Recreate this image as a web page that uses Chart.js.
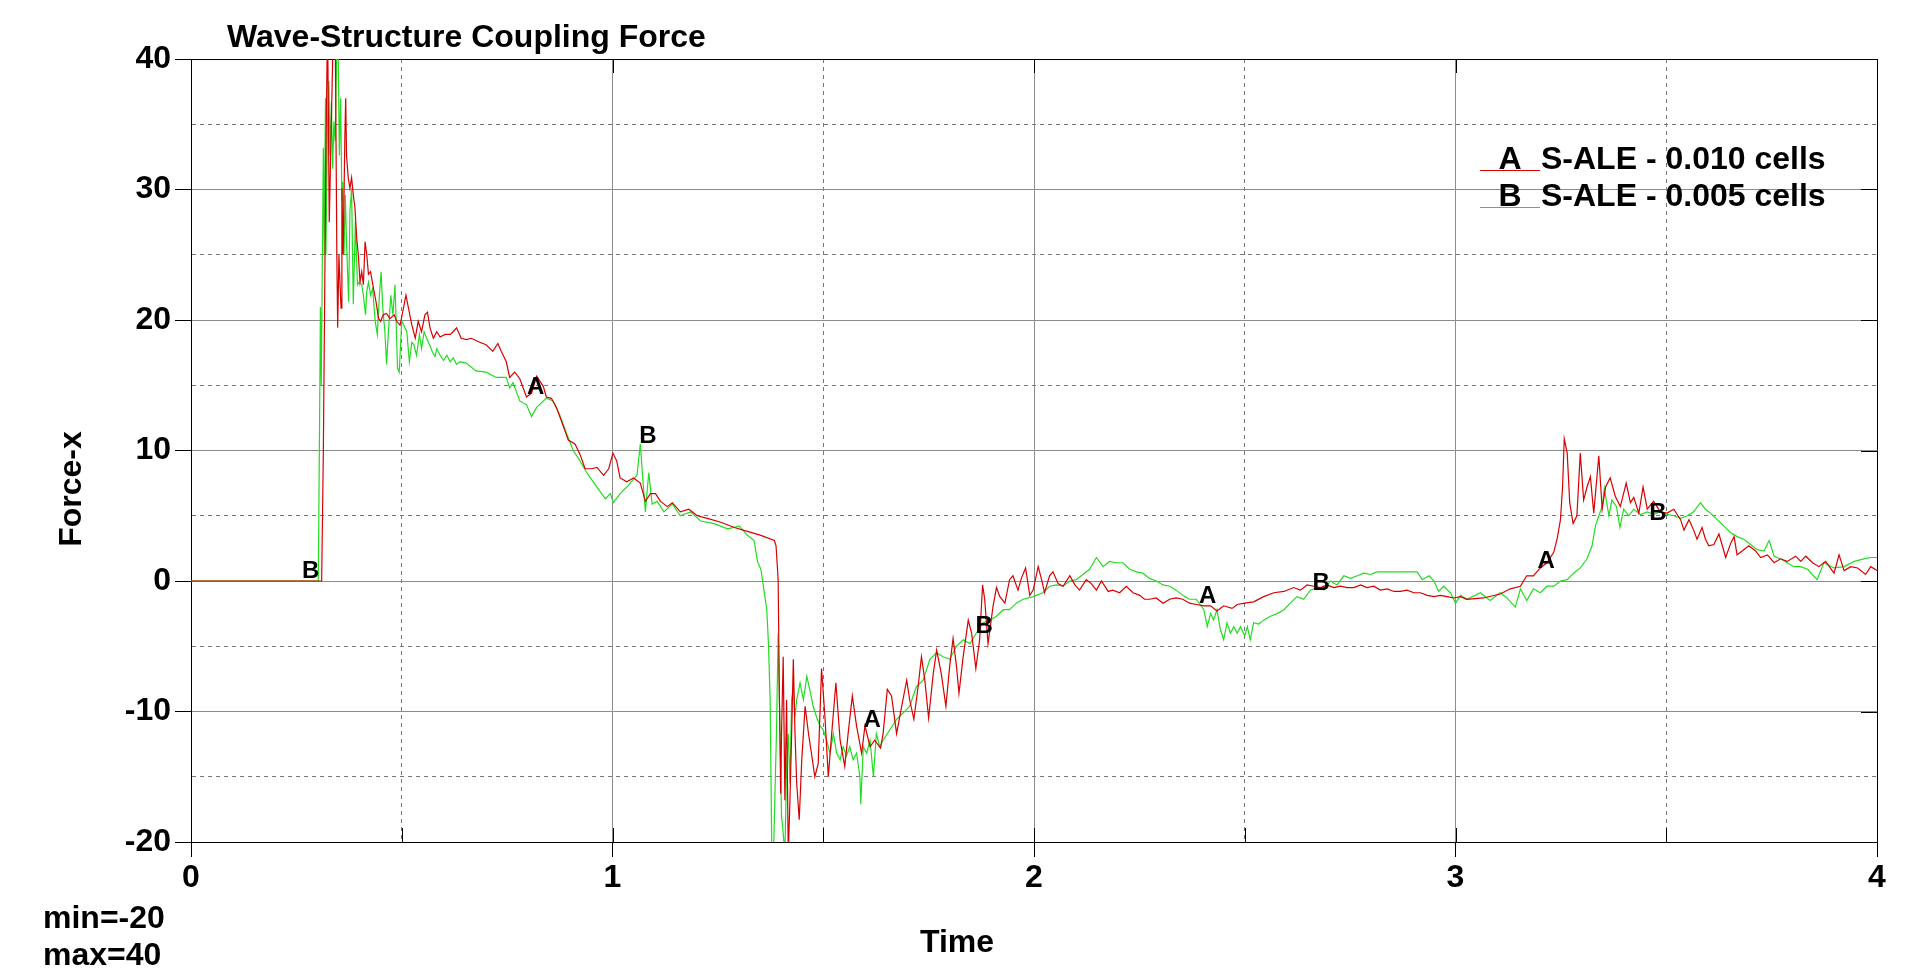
<!DOCTYPE html>
<html>
<head>
<meta charset="utf-8">
<title>Wave-Structure Coupling Force</title>
<script src="https://cdn.jsdelivr.net/npm/chart.js@4.4.1/dist/chart.umd.min.js"></script>
<style>
  html, body { margin: 0; padding: 0; background: #fff; }
  canvas { display: block; }
</style>
</head>
<body>
<canvas id="forceChart" width="1914" height="979"></canvas>
<script>
// curve A: S-ALE 0.010 cells, [time, force-x]
const curveA = [
  [0,0],[0.31,0],[0.314,10],[0.320,32.6],[0.324,43],[0.328,27.5],[0.333,35.2],[0.338,43],[0.342,43],[0.346,25.0],
  [0.348,19.4],[0.351,25.0],[0.354,22.4],[0.356,20.9],[0.358,30.1],[0.361,25.0],[0.365,33.9],[0.367,37.0],[0.369,32.6],[0.373,30.9],
  [0.377,30.1],[0.381,30.9],[0.385,29.6],[0.389,28.6],[0.393,26.3],[0.397,25.0],[0.401,22.9],[0.405,23.7],[0.409,22.7],[0.413,26.0],
  [0.417,25.0],[0.421,23.5],[0.426,23.7],[0.433,22.4],[0.439,21.4],[0.445,20.1],[0.450,19.9],[0.456,20.4],[0.464,20.5],[0.472,20.1],
  [0.482,20.4],[0.488,19.9],[0.496,19.6],[0.504,20.9],[0.510,21.9],[0.516,20.9],[0.524,19.6],[0.532,18.6],[0.539,19.9],[0.547,19.1],
  [0.555,20.4],[0.561,20.6],[0.567,19.4],[0.575,18.6],[0.583,19.1],[0.591,18.7],[0.603,18.9],[0.615,18.9],[0.622,19.1],[0.630,19.4],
  [0.641,18.6],[0.653,18.5],[0.665,18.6],[0.685,18.3],[0.700,18.1],[0.716,17.6],[0.728,18.2],[0.736,17.6],[0.748,16.8],[0.756,15.6],
  [0.768,16.0],[0.780,15.5],[0.796,14.1],[0.808,14.4],[0.820,15.7],[0.836,14.9],[0.843,14.1],[0.855,14.0],[0.867,13.3],[0.883,11.9],
  [0.895,10.8],[0.911,10.5],[0.923,9.7],[0.935,8.6],[0.951,8.6],[0.963,8.7],[0.979,8.1],[0.991,8.6],[1.001,9.8],[1.010,9.2],
  [1.018,7.9],[1.034,7.6],[1.050,7.9],[1.066,7.5],[1.078,6.1],[1.090,6.7],[1.102,6.7],[1.114,6.1],[1.130,5.7],[1.142,6.0],
  [1.161,5.3],[1.181,5.5],[1.201,5.0],[1.225,4.8],[1.257,4.5],[1.289,4.1],[1.320,3.8],[1.352,3.5],[1.384,3.1],[1.388,2.7],
  [1.393,0.1],[1.396,-9.1],[1.399,-16.3],[1.401,-11.7],[1.405,-5.8],[1.409,-16.8],[1.413,-9.1],[1.417,-21],[1.421,-16.8],[1.425,-11.7],
  [1.429,-6.0],[1.433,-11.7],[1.437,-15.5],[1.443,-18.3],[1.449,-13.7],[1.457,-9.6],[1.465,-11.7],[1.472,-13.2],[1.480,-15.0],[1.488,-14.0],
  [1.496,-6.7],[1.504,-10.4],[1.512,-15.0],[1.520,-11.7],[1.530,-7.8],[1.540,-12.2],[1.551,-14.2],[1.559,-11.7],[1.569,-8.8],[1.579,-11.1],
  [1.591,-13.2],[1.599,-11.1],[1.611,-12.7],[1.622,-12.2],[1.636,-12.8],[1.642,-11.7],[1.652,-8.3],[1.662,-8.8],[1.674,-11.7],[1.686,-9.6],
  [1.698,-7.6],[1.705,-9.1],[1.715,-10.6],[1.725,-8.1],[1.733,-5.8],[1.741,-7.6],[1.750,-10.5],[1.761,-7.1],[1.769,-5.3],[1.780,-7.1],
  [1.791,-9.6],[1.800,-6.5],[1.808,-4.4],[1.816,-6.5],[1.822,-8.6],[1.832,-5.8],[1.844,-3.0],[1.852,-4.0],[1.862,-6.7],[1.871,-4.5],
  [1.878,-0.3],[1.883,-1.4],[1.891,-4.8],[1.903,-1.9],[1.911,-0.5],[1.919,-1.2],[1.931,-1.7],[1.942,0.1],[1.950,0.4],[1.962,-0.7],
  [1.970,0.2],[1.980,1.0],[1.990,-1.1],[1.998,-0.7],[2.010,1.1],[2.018,0.1],[2.025,-0.9],[2.037,0.4],[2.045,0.7],[2.057,-0.2],
  [2.069,-0.4],[2.085,0.4],[2.097,-0.3],[2.108,-0.7],[2.124,0.1],[2.136,-0.2],[2.148,-0.7],[2.160,0.0],[2.176,-0.8],[2.187,-0.7],
  [2.203,-0.9],[2.219,-0.4],[2.235,-0.9],[2.251,-1.1],[2.262,-1.4],[2.274,-1.4],[2.290,-1.3],[2.306,-1.7],[2.322,-1.4],[2.337,-1.3],
  [2.353,-1.4],[2.369,-1.7],[2.385,-1.8],[2.403,-1.9],[2.419,-1.9],[2.434,-2.3],[2.450,-1.9],[2.470,-2.1],[2.482,-1.8],[2.500,-1.7],
  [2.521,-1.6],[2.545,-1.2],[2.569,-0.9],[2.593,-0.8],[2.616,-0.5],[2.632,-0.7],[2.648,-0.3],[2.664,-0.4],[2.680,-0.5],[2.695,-0.3],
  [2.711,-0.5],[2.727,-0.4],[2.743,-0.5],[2.759,-0.5],[2.775,-0.3],[2.790,-0.5],[2.806,-0.4],[2.822,-0.7],[2.838,-0.6],[2.854,-0.8],
  [2.869,-0.8],[2.885,-0.7],[2.901,-0.9],[2.917,-0.9],[2.933,-1.1],[2.949,-1.2],[2.964,-1.1],[2.980,-1.2],[2.996,-1.3],[3.012,-1.2],
  [3.027,-1.4],[3.066,-1.3],[3.106,-1.0],[3.130,-0.6],[3.154,-0.4],[3.169,0.4],[3.185,0.4],[3.201,1.0],[3.217,1.4],[3.233,2.2],
  [3.241,3.2],[3.249,4.7],[3.254,7.2],[3.258,10.9],[3.265,9.8],[3.271,6.0],[3.279,4.4],[3.288,5.0],[3.296,9.8],[3.304,6.2],
  [3.312,7.2],[3.320,8.0],[3.328,5.2],[3.340,9.6],[3.348,5.5],[3.356,7.2],[3.367,7.9],[3.379,6.5],[3.391,5.7],[3.405,7.5],
  [3.415,6.0],[3.423,6.4],[3.435,5.2],[3.445,7.2],[3.455,5.5],[3.470,6.1],[3.486,5.3],[3.502,5.2],[3.518,5.5],[3.534,4.7],
  [3.542,3.9],[3.554,4.7],[3.565,3.9],[3.573,3.2],[3.585,4.1],[3.593,3.2],[3.601,2.7],[3.613,2.8],[3.625,3.6],[3.633,2.7],
  [3.641,1.8],[3.653,2.9],[3.661,3.4],[3.668,2.0],[3.680,2.3],[3.696,2.7],[3.712,2.3],[3.724,1.8],[3.740,2.0],[3.756,1.4],
  [3.771,1.7],[3.787,1.5],[3.807,1.9],[3.819,1.5],[3.831,1.9],[3.847,1.4],[3.862,1.1],[3.878,1.5],[3.898,0.6],[3.910,2.0],
  [3.922,0.8],[3.938,1.1],[3.954,1.0],[3.973,0.5],[3.985,1.1],[4.0,0.8]
];

// curve B: S-ALE 0.005 cells, [time, force-x]
const curveB = [
  [0,0],[0.302,0],[0.305,12],[0.307,21],[0.309,15],[0.314,33.2],[0.316,25.0],[0.319,37.0],[0.320,25.0],[0.324,35.2],
  [0.327,38.3],[0.330,32.6],[0.333,36.7],[0.336,31.6],[0.339,35.2],[0.342,33.7],[0.346,41],[0.349,41],[0.352,32.6],[0.355,37.0],
  [0.358,29.1],[0.360,30.6],[0.363,25.0],[0.366,29.6],[0.369,26.0],[0.374,21.4],[0.377,28.3],[0.381,30.1],[0.385,21.2],[0.390,27.5],
  [0.395,22.7],[0.399,22.9],[0.405,22.7],[0.409,21.9],[0.414,20.4],[0.417,22.2],[0.421,22.9],[0.426,21.9],[0.431,22.4],[0.437,19.9],
  [0.442,18.9],[0.447,21.9],[0.451,23.7],[0.455,20.9],[0.460,19.1],[0.464,16.6],[0.468,18.9],[0.474,21.9],[0.479,20.4],[0.484,22.7],
  [0.490,16.3],[0.494,16.0],[0.500,19.9],[0.505,19.6],[0.512,19.1],[0.518,16.8],[0.524,18.3],[0.529,18.1],[0.535,17.3],[0.542,18.9],
  [0.547,17.8],[0.553,19.1],[0.559,18.6],[0.566,18.1],[0.572,17.6],[0.579,17.2],[0.583,17.8],[0.591,17.3],[0.599,16.9],[0.607,17.3],
  [0.615,16.8],[0.622,17.1],[0.630,16.6],[0.638,16.8],[0.653,16.7],[0.676,16.1],[0.700,16.0],[0.724,15.6],[0.748,15.6],[0.756,14.8],
  [0.764,15.2],[0.780,13.8],[0.796,13.5],[0.808,12.6],[0.820,13.3],[0.843,14.0],[0.859,13.8],[0.875,12.7],[0.891,11.3],[0.907,10.0],
  [0.923,9.2],[0.939,8.3],[0.963,7.2],[0.983,6.3],[0.995,6.7],[1.002,6.0],[1.018,6.7],[1.034,7.2],[1.050,7.8],[1.058,8.1],
  [1.066,10.5],[1.072,7.8],[1.078,5.3],[1.086,8.3],[1.094,5.9],[1.106,6.1],[1.122,5.3],[1.142,5.9],[1.161,5.0],[1.185,5.3],
  [1.209,4.6],[1.241,4.4],[1.273,4.0],[1.301,4.2],[1.320,3.5],[1.336,3.1],[1.344,1.5],[1.352,0.9],[1.358,-0.4],[1.366,-2.2],
  [1.370,-4.8],[1.374,-9.1],[1.378,-21],[1.382,-21],[1.386,-15.5],[1.389,-11.7],[1.393,-4.0],[1.396,-9.1],[1.399,-14.2],[1.401,-18.0],
  [1.405,-19.3],[1.409,-21],[1.413,-14.2],[1.417,-11.7],[1.421,-15.5],[1.425,-9.1],[1.429,-8.1],[1.433,-10.4],[1.437,-9.1],[1.445,-7.8],
  [1.453,-9.1],[1.461,-7.3],[1.468,-8.3],[1.476,-9.6],[1.484,-10.4],[1.492,-11.1],[1.500,-11.4],[1.508,-12.2],[1.516,-13.2],[1.524,-11.7],
  [1.532,-13.2],[1.540,-13.7],[1.547,-12.7],[1.555,-13.4],[1.563,-12.7],[1.571,-13.7],[1.579,-13.2],[1.587,-15.0],[1.589,-17.1],[1.595,-12.7],
  [1.603,-13.2],[1.611,-12.2],[1.619,-15.0],[1.626,-11.7],[1.634,-12.7],[1.642,-12.2],[1.658,-11.4],[1.674,-10.6],[1.690,-10.1],[1.705,-9.6],
  [1.721,-8.1],[1.737,-7.6],[1.753,-6.0],[1.769,-5.5],[1.784,-5.8],[1.800,-6.0],[1.816,-5.0],[1.832,-4.5],[1.848,-4.8],[1.863,-4.0],
  [1.879,-3.2],[1.895,-3.0],[1.911,-2.7],[1.927,-2.2],[1.942,-2.2],[1.958,-1.7],[1.974,-1.4],[1.998,-1.2],[2.021,-0.9],[2.037,-0.4],
  [2.053,-0.3],[2.069,-0.4],[2.085,0.0],[2.100,0.1],[2.116,0.5],[2.132,0.9],[2.148,1.8],[2.164,1.1],[2.179,1.5],[2.195,1.4],
  [2.211,1.4],[2.227,0.9],[2.243,0.7],[2.258,0.6],[2.274,0.2],[2.290,0.0],[2.306,-0.3],[2.322,-0.4],[2.337,-0.7],[2.353,-1.1],
  [2.369,-1.4],[2.385,-1.4],[2.403,-2.2],[2.411,-3.5],[2.419,-2.5],[2.426,-3.0],[2.434,-2.2],[2.442,-3.7],[2.450,-4.5],[2.458,-3.2],
  [2.466,-4.0],[2.474,-3.5],[2.482,-4.0],[2.490,-3.5],[2.500,-4.2],[2.506,-3.5],[2.513,-4.5],[2.521,-3.2],[2.533,-3.3],[2.545,-3.0],
  [2.561,-2.7],[2.577,-2.5],[2.593,-2.2],[2.608,-1.7],[2.624,-1.2],[2.640,-1.4],[2.656,-0.7],[2.672,-0.5],[2.688,-0.7],[2.703,0.0],
  [2.719,-0.3],[2.735,0.4],[2.751,0.2],[2.767,0.4],[2.782,0.6],[2.798,0.5],[2.814,0.7],[2.838,0.7],[2.862,0.7],[2.885,0.7],
  [2.909,0.7],[2.921,0.1],[2.937,0.4],[2.949,0.0],[2.960,-0.8],[2.972,-0.4],[2.988,-0.9],[3.000,-1.7],[3.012,-1.1],[3.027,-1.4],
  [3.059,-0.9],[3.082,-1.5],[3.106,-0.9],[3.122,-1.3],[3.142,-2.0],[3.154,-0.6],[3.169,-1.5],[3.185,-0.6],[3.201,-0.9],[3.217,-0.4],
  [3.233,-0.4],[3.249,0.0],[3.265,0.1],[3.280,0.6],[3.296,1.0],[3.312,1.7],[3.324,2.7],[3.332,4.2],[3.340,5.0],[3.348,5.7],
  [3.353,7.1],[3.364,5.0],[3.371,6.2],[3.382,5.7],[3.390,4.1],[3.399,5.5],[3.411,5.0],[3.423,5.5],[3.439,5.1],[3.455,5.3],
  [3.470,5.1],[3.486,5.3],[3.502,5.1],[3.518,5.0],[3.534,4.8],[3.550,5.0],[3.565,5.3],[3.581,6.0],[3.593,5.5],[3.605,5.2],
  [3.621,4.7],[3.637,4.2],[3.653,3.7],[3.668,3.4],[3.684,3.2],[3.700,2.8],[3.716,2.4],[3.732,2.3],[3.744,3.1],[3.756,1.9],
  [3.771,1.7],[3.787,1.4],[3.803,1.1],[3.819,1.1],[3.835,0.9],[3.858,0.1],[3.874,1.4],[3.898,1.0],[3.922,1.1],[3.946,1.5],
  [3.969,1.7],[3.985,1.8],[4.0,1.8]
];

// letter tags written along the curves
const tagText  = ['B', 'A', 'B', 'A', 'B', 'A', 'B', 'A', 'B'];
const tagTime  = [0.284, 0.818, 1.084, 1.616, 1.882, 2.412, 2.681, 3.215, 3.480];
const tagForce = [0.7, 14.8, 11.1, -10.7, -3.5, -1.2, -0.2, 1.5, 5.2];

const seriesNames = ['S-ALE - 0.010 cells', 'S-ALE - 0.005 cells'];
const seriesTags = ['A', 'B'];
const seriesColors = ['#d80000', '#22dc22'];

const FONT = '"Liberation Sans", Arial, sans-serif';
const isMajorX = v => Math.abs(v - Math.round(v)) < 1e-6;
const isMajorY = v => Math.abs(v % 10) < 1e-6;

// title, legend, min/max note, curve tags, inner tick marks
const decorPlugin = {
  id: 'decor',
  afterDraw(chart) {
    const { ctx, chartArea: a, scales: { x, y } } = chart;
    ctx.save();

    // inner tick marks
    ctx.strokeStyle = '#000';
    ctx.lineWidth = 1;
    ctx.beginPath();
    x.ticks.forEach(t => {
      const px = Math.round(x.getPixelForValue(t.value)) + 0.5;
      ctx.moveTo(px, a.bottom);
      ctx.lineTo(px, a.bottom - 14);
      if (isMajorX(t.value)) {
        ctx.moveTo(px, a.top);
        ctx.lineTo(px, a.top + 14);
      }
    });
    y.ticks.forEach(t => {
      if (!isMajorY(t.value)) return;
      const py = Math.round(y.getPixelForValue(t.value)) + 0.5;
      ctx.moveTo(a.right, py);
      ctx.lineTo(a.right - 16, py);
    });
    ctx.stroke();

    // tags on curves
    ctx.fillStyle = '#000';
    ctx.font = 'bold 24px ' + FONT;
    ctx.textAlign = 'center';
    ctx.textBaseline = 'middle';
    tagText.forEach((s, i) => {
      ctx.fillText(s, x.getPixelForValue(tagTime[i]), y.getPixelForValue(tagForce[i]));
    });

    // title
    ctx.font = 'bold 32px ' + FONT;
    ctx.textAlign = 'left';
    ctx.textBaseline = 'alphabetic';
    ctx.fillText('Wave-Structure Coupling Force', 227, 47);

    // legend
    seriesNames.forEach((name, i) => {
      const base = 169 + i * 37;
      ctx.strokeStyle = seriesColors[i];
      ctx.beginPath();
      ctx.moveTo(1480, base + 1.5);
      ctx.lineTo(1540, base + 1.5);
      ctx.stroke();
      ctx.fillStyle = '#000';
      ctx.textAlign = 'center';
      ctx.fillText(seriesTags[i], 1510, base);
      ctx.textAlign = 'left';
      ctx.fillText(name, 1541, base);
    });

    // axis titles
    ctx.textAlign = 'center';
    ctx.fillText('Time', 957, 952);
    ctx.save();
    ctx.translate(81, 489);
    ctx.rotate(-Math.PI / 2);
    ctx.fillText('Force-x', 0, 0);
    ctx.restore();

    // min / max note
    ctx.textAlign = 'left';
    ctx.fillText('min=-20', 43, 928);
    ctx.fillText('max=40', 43, 965);

    ctx.restore();
  }
};

const ctx = document.getElementById('forceChart').getContext('2d');
new Chart(ctx, {
  type: 'line',
  data: {
    datasets: [
      {
        label: seriesNames[0],
        data: curveA.map(p => ({ x: p[0], y: p[1] })),
        borderColor: seriesColors[0],
        borderWidth: 1.2,
        pointRadius: 0,
        tension: 0,
        fill: false
      },
      {
        label: seriesNames[1],
        data: curveB.map(p => ({ x: p[0], y: p[1] })),
        borderColor: seriesColors[1],
        borderWidth: 1.2,
        pointRadius: 0,
        tension: 0,
        fill: false
      }
    ]
  },
  options: {
    responsive: false,
    animation: false,
    devicePixelRatio: 1,
    layout: { padding: { top: 59, right: 37, left: 0, bottom: 0 } },
    plugins: {
      legend: { display: false },
      tooltip: { enabled: false },
      title: { display: false }
    },
    scales: {
      x: {
        type: 'linear',
        min: 0,
        max: 4,
        afterFit: s => { s.height = 137; },
        ticks: {
          stepSize: 0.5,
          autoSkip: false,
          maxRotation: 0,
          padding: 2,
          color: '#000',
          font: { family: FONT, size: 32, weight: 'bold' },
          callback: v => isMajorX(v) ? String(Math.round(v)) : ''
        },
        grid: {
          color: c => (c.tick && (c.tick.value === 0 || c.tick.value === 4)) ? '#000' :
                      (c.tick && isMajorX(c.tick.value) ? '#8c8c8c' : '#777'),
          lineWidth: 1,
          tickLength: 15,
          tickColor: c => (c.tick && isMajorX(c.tick.value)) ? '#000' : 'rgba(0,0,0,0)'
        },
        border: {
          display: true,
          color: '#000',
          dash: c => (c.tick && !isMajorX(c.tick.value)) ? [4, 4] : []
        }
      },
      y: {
        type: 'linear',
        min: -20,
        max: 40,
        afterFit: s => { s.width = 191; },
        ticks: {
          stepSize: 5,
          autoSkip: false,
          padding: 4,
          color: '#000',
          font: { family: FONT, size: 32, weight: 'bold' },
          callback: v => isMajorY(v) ? String(v) : ''
        },
        grid: {
          color: c => (c.tick && (c.tick.value === 40 || c.tick.value === -20)) ? '#000' :
                      (c.tick && isMajorY(c.tick.value) ? '#8c8c8c' : '#777'),
          lineWidth: 1,
          tickLength: 16,
          tickColor: c => (c.tick && isMajorY(c.tick.value)) ? '#000' : 'rgba(0,0,0,0)'
        },
        border: {
          display: true,
          color: '#000',
          dash: c => (c.tick && !isMajorY(c.tick.value)) ? [4, 4] : []
        }
      }
    }
  },
  plugins: [decorPlugin]
});
</script>
</body>
</html>
